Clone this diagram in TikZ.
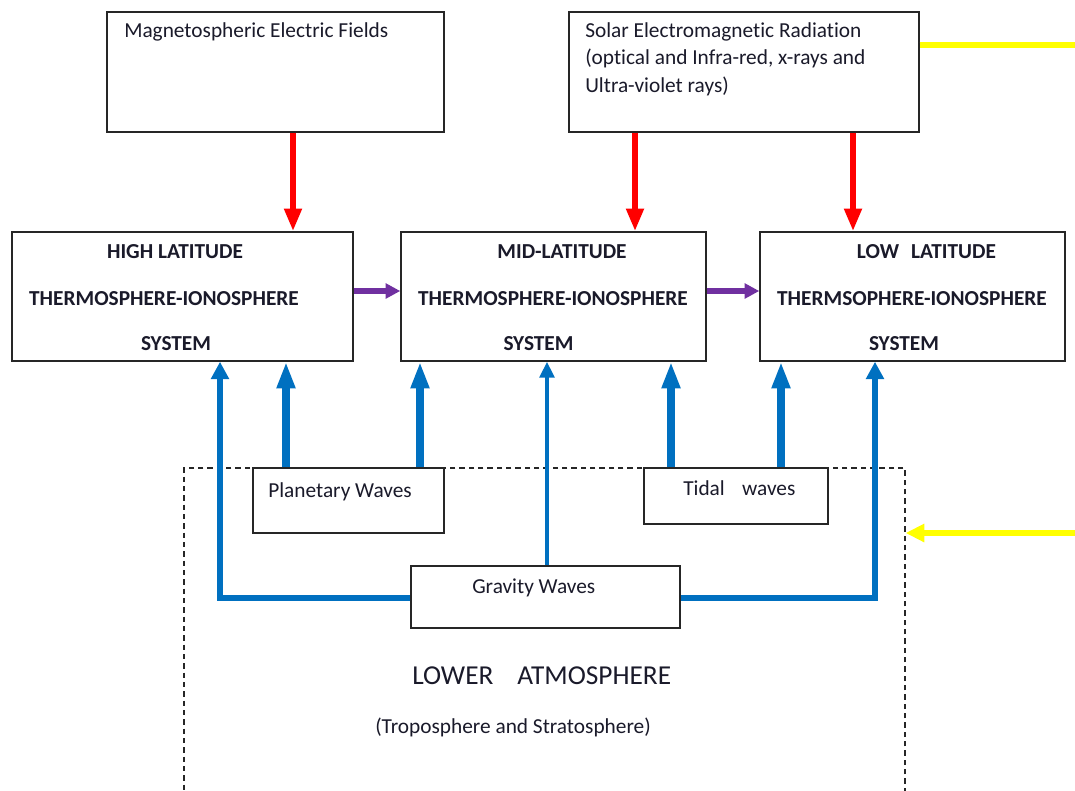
\documentclass[tikz,border=0pt]{standalone}
\usepackage{fontspec}
\setmainfont{Carlito}[Ligatures=NoCommon]
\usetikzlibrary{arrows.meta,calc}
\definecolor{wblue}{HTML}{0070C0}
\definecolor{wpurple}{HTML}{7030A0}
\definecolor{wyellow}{HTML}{FFFF00}
\definecolor{wred}{HTML}{FF0000}
\definecolor{txt}{HTML}{1A1A2A}
\begin{document}
\begin{tikzpicture}[x=0.75pt,y=-0.75pt,
  box/.style={draw=black!85, line width=1.1pt, fill=white, inner sep=0pt},
  sz/.style 2 args={minimum width=#1*0.75pt, minimum height=#2*0.75pt},
  lbl/.style={text=txt, font=\fontsize{16}{18}\selectfont, anchor=base west, inner sep=0pt},
  hd/.style={text=txt, font=\fontsize{16}{18}\selectfont\bfseries, anchor=base, inner sep=0pt},
  redarr/.style={draw=wred, line width=4.5pt, -{Triangle[length=17pt,width=12.5pt]}},
  purarr/.style={draw=wpurple, line width=3.8pt, -{Triangle[length=11pt,width=11pt]}},
  bthick/.style={draw=wblue, line width=6pt, -{Triangle[length=20pt,width=13pt]}},
  bthin/.style={draw=wblue, line width=4.5pt, line join=miter, -{Triangle[length=13pt,width=13pt]}},
  bthinner/.style={draw=wblue, line width=3.2pt, -{Triangle[length=12pt,width=11pt]}},
  yel/.style={draw=wyellow, line width=5.2pt},
]
\useasboundingbox (0,0) rectangle (1075,790);
\clip (0,0) rectangle (1075,790);

% lower atmosphere dashed region
\node[draw=black!85, line width=0.9pt, dash pattern=on 4pt off 3pt, sz={721}{360}, inner sep=0pt] (lower) at (544.5,648) {};

% boxes
\node[box, sz={337}{120}] (mag) at (275.5,72) {};
\node[box, sz={350}{120}] (sol) at (744,72) {};
\node[box, sz={341}{129}] (high) at (182.5,296.5) {};
\node[box, sz={305}{129}] (mid) at (553.5,296.5) {};
\node[box, sz={305}{129}] (low) at (912.5,296.5) {};
\node[box, sz={191}{65}] (plan) at (348.5,500.5) {};
\node[box, sz={184}{56}] (tidal) at (736,496) {};
\node[box, sz={269}{62}] (grav) at (545.5,597) {};

% texts
\node[lbl] (tmag) at (124,37) {Magnetospheric Electric Fields};
\node[lbl] (tsol1) at (585,37) {Solar Electromagnetic Radiation};
\node[lbl] (tsol2) at (585,64) {(optical and Infra-red, x-rays and};
\node[lbl] (tsol3) at (585,92) {Ultra-violet rays)};

\node[hd] (h1) at (175,258) {HIGH LATITUDE};
\node[hd] (h2) at (164,305) {THERMOSPHERE-IONOSPHERE};
\node[hd] (h3) at (176,350) {SYSTEM};
\node[hd] (m1) at (562,258) {MID-LATITUDE};
\node[hd] (m2) at (553,305) {THERMOSPHERE-IONOSPHERE};
\node[hd] (m3) at (538.5,350) {SYSTEM};
\node[hd] (l1) at (926.5,258) {LOW\hspace{9pt}LATITUDE};
\node[hd] (l2) at (912,305) {THERMSOPHERE-IONOSPHERE};
\node[hd] (l3) at (904,350) {SYSTEM};

\node[lbl] (tplan) at (268,497) {Planetary Waves};
\node[lbl] (ttid) at (683,495) {Tidal\hspace{13pt}waves};
\node[lbl] (tgrav) at (472,593) {Gravity Waves};
\node[lbl, font=\fontsize{20.5}{22}\selectfont] (tlow) at (412,684) {LOWER\hspace{18pt}ATMOSPHERE};
\node[lbl] (ttrop) at (375,733) {(Troposphere and Stratosphere)};

% red arrows
\draw[redarr] (293,0 |- mag.south) -- (293,0 |- high.north);
\draw[redarr] (635,0 |- sol.south) -- (635,0 |- mid.north);
\draw[redarr] (853,0 |- sol.south) -- (853,0 |- low.north);

% purple arrows
\draw[purarr] (high.east |- 0,291) -- (mid.west |- 0,291);
\draw[purarr] (mid.east |- 0,291) -- (low.west |- 0,291);

% yellow
\coordinate (yr1) at (1075,45);
\coordinate (yr2) at (1075,533);
\draw[yel] (sol.east |- yr1) -- (yr1);
\draw[yel, -{Triangle[length=14pt,width=13pt]}] (yr2) -- (lower.east |- yr2);

% blue arrows
\draw[bthick] (286,0 |- plan.north) -- (286,0 |- high.south);
\draw[bthick] (420,0 |- plan.north) -- (420,0 |- mid.south);
\draw[bthick] (671,0 |- tidal.north) -- (671,0 |- mid.south);
\draw[bthick] (781,0 |- tidal.north) -- (781,0 |- low.south);
\draw[bthin] (grav.west |- 0,598) -| (220,0 |- high.south);
\draw[bthin] (grav.east |- 0,598) -| (875,0 |- low.south);
\draw[bthinner] (547,0 |- grav.north) -- (547,0 |- mid.south);
\end{tikzpicture}
\end{document}
